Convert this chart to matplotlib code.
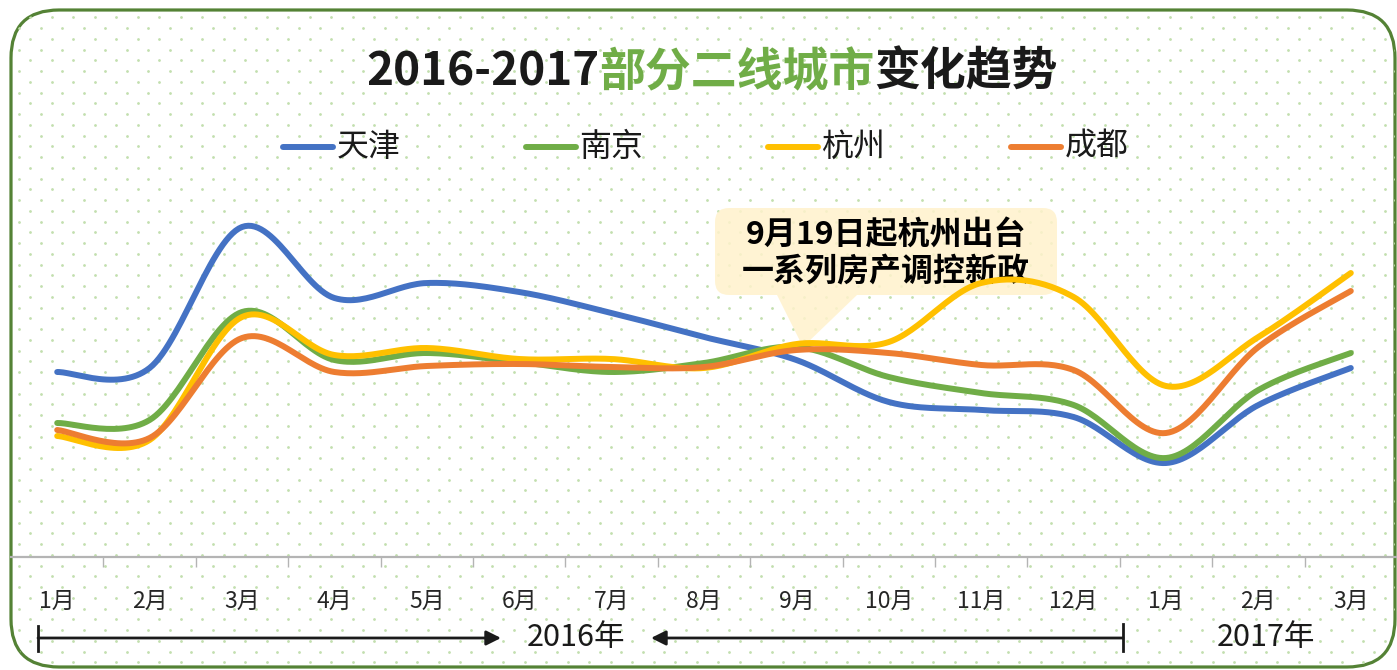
import numpy as np
import matplotlib
matplotlib.use("Agg")
import matplotlib.pyplot as plt
from matplotlib.patches import FancyBboxPatch, Polygon
from matplotlib.lines import Line2D

plt.rcParams['font.family'] = ['Noto Sans CJK SC', 'DejaVu Sans']

# data (arbitrary index units)
months = ['1月', '2月', '3月', '4月', '5月', '6月', '7月', '8月', '9月',
          '10月', '11月', '12月', '1月', '2月', '3月']
cities = ['天津', '南京', '杭州', '成都']
tianjin = [185, 189, 330, 259, 274, 265, 244, 220, 197, 155, 147, 140, 94, 152, 189]
nanjing = [134, 137, 245, 197, 204, 195, 185, 194, 210, 180, 164, 152, 99, 167, 204]
hangzhou = [121, 117, 240, 202, 209, 198, 198, 189, 213, 215, 274, 260, 171, 220, 284]
chengdu = [127, 119, 219, 185, 191, 193, 190, 190, 207, 204, 192, 187, 124, 210, 266]
series = [tianjin, nanjing, hangzhou, chengdu]
colors = ['#4472c4', '#70ad47', '#ffc000', '#ed7d31']

W, H = 1397, 670


def smooth(y, n=30):
    # bezier segments with catmull-rom tangents (excel "smoothed line")
    pts = np.column_stack([np.arange(len(y)), np.asarray(y, float)])
    ext = np.vstack([pts[0], pts, pts[-1]])
    t = np.linspace(0, 1, n)[:, None]
    out = []
    for i in range(len(pts) - 1):
        p0, p3 = ext[i + 1], ext[i + 2]
        p1 = p0 + (ext[i + 2] - ext[i]) / 6
        p2 = p3 - (ext[i + 3] - ext[i + 1]) / 6
        seg = (1 - t)**3 * p0 + 3 * (1 - t)**2 * t * p1 + 3 * (1 - t) * t**2 * p2 + t**3 * p3
        out.append(seg if i == 0 else seg[1:])
    s = np.vstack(out)
    return s[:, 0], s[:, 1]


fig = plt.figure(figsize=(W / 100, H / 100), dpi=100)

# background layer in pixel coordinates
bg = fig.add_axes([0, 0, 1, 1], zorder=0)
bg.set_xlim(0, W)
bg.set_ylim(H, 0)
bg.axis('off')

border = FancyBboxPatch((11, 10), 1384, 657, boxstyle='round,pad=0,rounding_size=48',
                        fc='white', ec='#548235', lw=2.3, zorder=1)
bg.add_patch(border)

# dotted texture
k, m = np.meshgrid(np.arange(-6, 135), np.arange(-3, 65))
keep = (k + m) % 2 == 0
dx = 51.7 + k[keep] * 10.75
dy = 17.3 + m[keep] * 10.75
dots = bg.scatter(dx, dy, s=4, c='#c2dfae', linewidths=0, zorder=2)
dots.set_clip_path(border)

# title in three colours
t1 = bg.text(366, 73, '2016-2017', fontsize=33, weight='heavy', color='#1a1a1a',
             ha='left', va='center', zorder=5)
t2 = bg.annotate('部分二线城市', xy=(1, 0), xycoords=t1, fontsize=33, weight='heavy',
                 color='#70ad47', ha='left', va='bottom', zorder=5)
bg.annotate('变化趋势', xy=(1, 0), xycoords=t2, fontsize=33, weight='heavy',
            color='#1a1a1a', ha='left', va='bottom', zorder=5)

# legend
for i, (name, col) in enumerate(zip(cities, colors)):
    x0 = 283 + 242.5 * i
    bg.add_line(Line2D([x0, x0 + 50], [147, 147], color=col, lw=4.3,
                       solid_capstyle='round', zorder=5))
    bg.text(x0 + 54, 147, name, fontsize=23, color='#1a1a1a', ha='left', va='center', zorder=5)

# callout
bg.add_patch(FancyBboxPatch((715, 208), 342, 87, boxstyle='round,pad=0,rounding_size=14',
                            fc='#fff2cc', ec='none', alpha=0.85, zorder=3))
bg.add_patch(Polygon([(777, 295), (857, 295), (803, 347)], closed=True,
                     fc='#fff2cc', ec='none', alpha=0.85, zorder=3))
bg.text(886, 235, '9月19日起杭州出台', fontsize=23, weight='heavy', color='black',
        ha='center', va='center', zorder=4)
bg.text(886, 271, '一系列房产调控新政', fontsize=23, weight='heavy', color='black',
        ha='center', va='center', zorder=4)

# year spans
bg.annotate('', xy=(501, 638), xytext=(38, 638),
            arrowprops=dict(arrowstyle='-|>', lw=2, color='#1a1a1a', mutation_scale=22,
                            shrinkA=0, shrinkB=0), zorder=5)
bg.plot([38, 38], [626, 651], color='#1a1a1a', lw=2, zorder=5)
bg.annotate('', xy=(651, 638), xytext=(1123, 638),
            arrowprops=dict(arrowstyle='-|>', lw=2, color='#1a1a1a', mutation_scale=22,
                            shrinkA=0, shrinkB=0), zorder=5)
bg.plot([1123, 1123], [624, 651], color='#1a1a1a', lw=2, zorder=5)
bg.text(576, 638, '2016年', fontsize=22, color='#1a1a1a', ha='center', va='center', zorder=5)
bg.text(1266, 638, '2017年', fontsize=22, color='#1a1a1a', ha='center', va='center', zorder=5)

# main chart
ax = fig.add_axes([11 / W, 1 - 557 / H, 1386 / W, (557 - 170) / H], zorder=2)
ax.patch.set_alpha(0)
for vals, col in zip(series, colors):
    sx, sy = smooth(vals)
    ax.plot(sx, sy, color=col, lw=4.3, solid_capstyle='round')

ax.set_xlim(-0.5, len(months) - 0.5)
ax.set_ylim(0, 387)
for s in ['top', 'right', 'left']:
    ax.spines[s].set_visible(False)
ax.spines['bottom'].set_color('#b4b4b4')
ax.spines['bottom'].set_linewidth(1.6)
ax.set_yticks([])
ax.set_xticks(range(len(months)), months)
ax.set_xticks(np.arange(0.5, len(months) - 1, 1), minor=True)
ax.tick_params(axis='x', which='major', length=0, pad=24, labelsize=16.5, labelcolor='#262626')
ax.tick_params(axis='x', which='minor', length=7, width=1, color='#b4b4b4')

fig.savefig('out.png', dpi=100)
